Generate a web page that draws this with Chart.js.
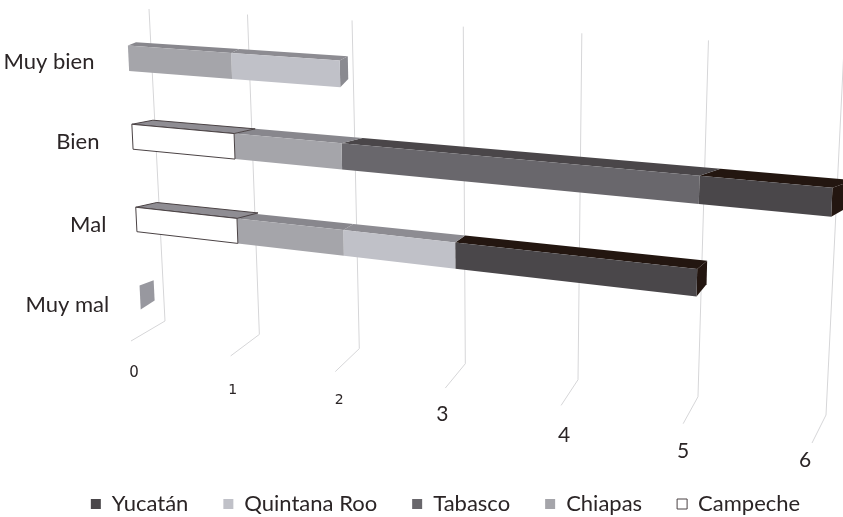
<!DOCTYPE html>
<html lang="es">
<head>
<meta charset="utf-8">
<title>Valoración por estado</title>
<script src="https://cdn.jsdelivr.net/npm/chart.js@4"></script>
<style>
    html, body { margin: 0; background: #fff; }
    canvas { display: block; }
</style>
</head>
<body>
<canvas id="ratingChart" width="843" height="517"></canvas>
<script>
// --- 1. Data ---
const categories = ['Muy bien', 'Bien', 'Mal', 'Muy mal'];
const campeche = [null, 1, 1, null];
const chiapas = [1, 1, 1, 0];
const tabasco = [null, 3, null, null];
const quintanaRoo = [1, null, 1, null];
const yucatan = [null, 1, 2, null];
const valueTicks = [0, 1, 2, 3, 4, 5, 6];

// --- 2. Perspective planes (screen corners: top-left, top-right, bottom-right, bottom-left) ---
const wallQuad = [[149, 9], [844, 48], [826, 415], [165, 321]];
const floorQuad = [[165, 321], [826, 415], [812, 443], [131, 341]];
const frontQuad = [[126.5, 17], [838, 62.5], [822, 432], [142, 336]];

// Bars' rear edge relative to the front edge
const backThickness = 0.85;
const depthShiftX = [8, 21, 10, 14];
const depthShiftY = [[-5, -8], [-7.5, -13]];   // [top-left, top-right], [bottom-left, bottom-right]
const categoryNudgeY = [0, -3, 0, 0];

// Unit square -> quad homography; skew adds extra foreshortening along u
function makeProjection(quad, skew) {
    const [[x0, y0], [x1, y1], [x2, y2], [x3, y3]] = quad;
    const dx1 = x1 - x2, dx2 = x3 - x2, sx = x0 - x1 + x2 - x3;
    const dy1 = y1 - y2, dy2 = y3 - y2, sy = y0 - y1 + y2 - y3;
    const den = dx1 * dy2 - dx2 * dy1;
    const g = (sx * dy2 - dx2 * sy) / den;
    const h = (dx1 * sy - sx * dy1) / den;
    const a = x1 - x0 + g * x1, b = x3 - x0 + h * x3;
    const d = y1 - y0 + g * y1, e = y3 - y0 + h * y3;
    const k = skew || 0;
    return function(uIn, v) {
        const u = uIn * (1 - k) / (1 - k * uIn);
        const w = g * u + h * v + 1;
        return [(a * u + b * v + x0) / w, (d * u + e * v + y0) / w];
    };
}

const toWall = makeProjection(wallQuad, 0.015);
const toFloor = makeProjection(floorQuad, -0.035);
const toFront = makeProjection(frontQuad);

function fillPoly(ctx, points, fill, stroke) {
    ctx.beginPath();
    points.forEach(function(p, i) {
        if (i === 0) ctx.moveTo(p[0], p[1]);
        else ctx.lineTo(p[0], p[1]);
    });
    ctx.closePath();
    ctx.fillStyle = fill;
    ctx.fill();
    if (stroke) {
        ctx.lineWidth = 1;
        ctx.strokeStyle = stroke;
        ctx.stroke();
    }
}

// Old-style numerals: the low digits sit at x-height
const tickFonts = ['15px "DejaVu Sans"', '14px "DejaVu Sans"', '14px "DejaVu Sans"',
    '21px Lato', '21px Lato', '21px Lato', '21px Lato'];
const tickLabelOffsets = [[3, 32], [2, 34], [4, 29], [-3, 26], [3, 30], [0, 28], [-7, 17]];
const categoryLabelOffsets = [[-34, 4], [-33, 2], [-30, 5], [-31, 7]];
const textColor = '#2b2526';

const perspectivePlugin = {
    id: 'perspective',
    beforeDatasetsDraw: function(chart) {
        const ctx = chart.ctx;
        const area = chart.chartArea;
        const xScale = chart.scales.x;
        const yScale = chart.scales.y;
        const toU = function(px) { return (px - area.left) / area.width; };
        const toV = function(py) { return (py - area.top) / area.height; };

        // Gridlines on the back wall and their run across the floor
        ctx.save();
        ctx.lineWidth = 1;
        ctx.strokeStyle = '#d6d6d8';
        ctx.textAlign = 'center';
        ctx.textBaseline = 'middle';
        xScale.ticks.forEach(function(tick, i) {
            const u = toU(xScale.getPixelForValue(tick.value));
            const top = toWall(u, 0), corner = toWall(u, 1), end = toFloor(u, 1);
            ctx.beginPath();
            ctx.moveTo(top[0], top[1]);
            ctx.lineTo(corner[0], corner[1]);
            ctx.lineTo(end[0], end[1]);
            ctx.stroke();

            ctx.fillStyle = textColor;
            ctx.font = tickFonts[i];
            ctx.fillText(tick.label, end[0] + tickLabelOffsets[i][0], end[1] + tickLabelOffsets[i][1]);
        });

        // Category labels hang off the left edge of the bars' front plane
        ctx.textAlign = 'right';
        ctx.font = '22px Lato';
        ctx.fillStyle = textColor;
        categories.forEach(function(name, i) {
            const anchor = toFront(0, toV(yScale.getPixelForValue(i)));
            ctx.fillText(name, anchor[0] + categoryLabelOffsets[i][0], anchor[1] + categoryLabelOffsets[i][1]);
        });

        // Last drawn series per category carries the end cap
        const lastSeries = categories.map(function(name, i) {
            let last = -1;
            chart.data.datasets.forEach(function(ds, d) {
                if (ds.data[i] !== null) last = d;
            });
            return last;
        });

        const front = function(u, v, i) {
            const p = toFront(u, v);
            return [p[0], p[1] + categoryNudgeY[i]];
        };
        const back = function(u, v, mid, i, shiftX) {
            const p = front(u, mid + (v - mid) * backThickness, i);
            const left = depthShiftY[0][0] + (depthShiftY[1][0] - depthShiftY[0][0]) * mid;
            const right = depthShiftY[0][1] + (depthShiftY[1][1] - depthShiftY[0][1]) * mid;
            return [p[0] + (shiftX === undefined ? depthShiftX[i] : shiftX), p[1] + left + (right - left) * u];
        };

        // Right to left, so the left segments' top faces stay on top
        for (let d = chart.data.datasets.length - 1; d >= 0; d--) {
            const ds = chart.data.datasets[d];
            chart.getDatasetMeta(d).data.forEach(function(bar, i) {
                if (ds.data[i] === null) return;
                const p = bar.getProps(['x', 'y', 'base', 'height']);
                const u0 = toU(p.base), u1 = toU(p.x);
                const v0 = toV(p.y - p.height / 2), v1 = toV(p.y + p.height / 2);
                const mid = (v0 + v1) / 2;

                if (lastSeries[i] === d) {
                    fillPoly(ctx, [front(u1, v0, i), back(u1, v0, mid, i), back(u1, v1, mid, i), front(u1, v1, i)], ds.sideColor);
                }
                if (u1 > u0) {
                    fillPoly(ctx, [front(u0, v0, i), back(u0, v0, mid, i, ds.topShift), back(u1, v0, mid, i, ds.topShift), front(u1, v0, i)], ds.topColor, ds.edgeColor);
                    fillPoly(ctx, [front(u0, v0, i), front(u1, v0, i), front(u1, v1, i), front(u0, v1, i)], ds.backgroundColor, ds.edgeColor);
                }
            });
        }
        ctx.restore();
        return false;
    }
};

// --- 3. Chart ---
new Chart(document.getElementById('ratingChart'), {
    type: 'bar',
    plugins: [perspectivePlugin],
    data: {
        labels: categories,
        datasets: [
            { label: 'Campeche', data: campeche, backgroundColor: '#ffffff', borderColor: '#4a4244', borderWidth: 1,
              topColor: '#8f8d93', sideColor: '#8f8d93', edgeColor: '#4a4244', topShift: 21 },
            { label: 'Chiapas', data: chiapas, backgroundColor: '#a5a5aa',
              topColor: '#88878d', sideColor: '#98989f' },
            { label: 'Tabasco', data: tabasco, backgroundColor: '#69676c',
              topColor: '#4a4649', sideColor: '#4a4649' },
            { label: 'Quintana Roo', data: quintanaRoo, backgroundColor: '#c0c1c8',
              topColor: '#8d8c92', sideColor: '#8a8a90' },
            { label: 'Yucatán', data: yucatan, backgroundColor: '#4a474a',
              topColor: '#231610', sideColor: '#231610' }
        ]
    },
    options: {
        indexAxis: 'y',
        responsive: false,
        animation: false,
        barPercentage: 0.31,
        categoryPercentage: 1,
        layout: { padding: { left: 48, bottom: -8 } },
        scales: {
            x: { display: false, stacked: true, min: 0, max: 6, afterBuildTicks: function(scale) {
                scale.ticks = valueTicks.map(function(v) { return { value: v, label: String(v) }; });
            } },
            y: { display: false, stacked: true }
        },
        plugins: {
            tooltip: { enabled: false },
            legend: {
                position: 'bottom',
                reverse: true,
                labels: {
                    boxWidth: 10,
                    boxHeight: 10,
                    padding: 35,
                    color: textColor,
                    font: { family: 'Lato', size: 22 }
                }
            }
        }
    }
});
</script>
</body>
</html>
